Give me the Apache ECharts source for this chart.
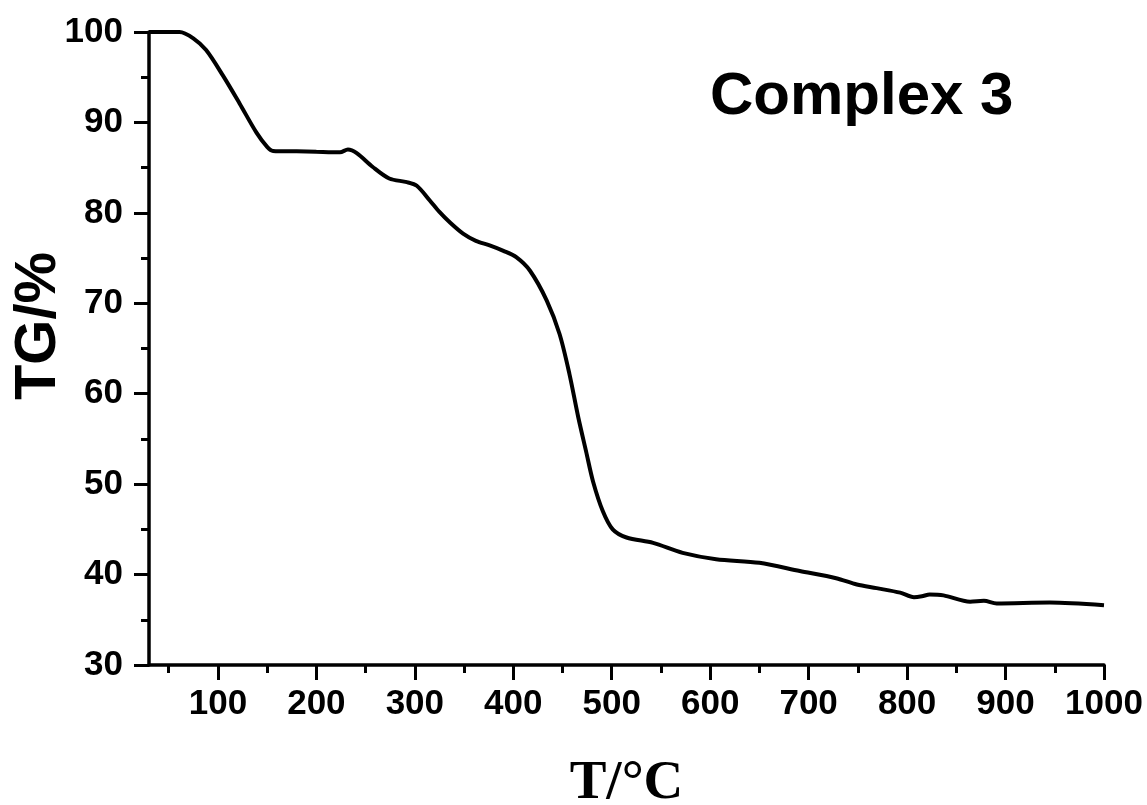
<!DOCTYPE html>
<html>
<head>
<meta charset="utf-8">
<script src="https://cdn.jsdelivr.net/npm/echarts@6/dist/echarts.min.js"></script>
<style>html,body{margin:0;padding:0;background:#fff;}#c{width:1147px;height:805px;}</style>
</head>
<body>
<div id="c"></div>
<script>
// Temperature (°C)
var temps = [30, 45, 61, 75, 88, 105, 122, 139, 150, 156, 180, 200, 224, 232, 241, 257, 274, 292, 302, 315, 325, 336, 349, 362, 376, 390, 403, 417, 434, 447, 457, 466, 474, 481, 491, 501, 515, 542, 572, 606, 650, 691, 728, 749, 769, 793, 807, 815, 823, 837, 864, 878, 891, 945, 1000];
// TG (%)
var tg = [100, 100, 100, 99.3, 98.0, 95.2, 92.1, 88.9, 87.3, 86.85, 86.8, 86.75, 86.7, 87.0, 86.6, 85.1, 83.8, 83.4, 83.0, 81.4, 80.1, 78.9, 77.7, 76.9, 76.4, 75.8, 75.1, 73.6, 70.3, 66.6, 62.2, 57.4, 53.6, 50.3, 47.0, 45.0, 44.1, 43.5, 42.4, 41.7, 41.3, 40.4, 39.6, 38.9, 38.5, 38.0, 37.5, 37.6, 37.8, 37.7, 37.0, 37.1, 36.8, 36.9, 36.6];
var xMajorTicks = [100, 200, 300, 400, 500, 600, 700, 800, 900, 1000];
var xMinorTicks = [50, 150, 250, 350, 450, 550, 650, 750, 850, 950];
var title = 'Complex 3';
var yTitle = 'TG/%';
var xTitle = 'T/°C';

var pts = temps.map(function (t, i) { return [t, tg[i]]; });
var font = 'Liberation Sans, Arial, sans-serif';
var chart = echarts.init(document.getElementById('c'));
chart.setOption({
  backgroundColor: '#fff',
  animation: false,
  grid: { left: 149, right: 43, top: 32, bottom: 140, containLabel: false, outerBoundsMode: 'none' },
  xAxis: [{
    type: 'value', min: 30, max: 1000,
    name: xTitle, nameLocation: 'middle', nameGap: 91,
    nameTextStyle: { fontFamily: 'Liberation Serif, Times New Roman, serif', fontWeight: 'bold', fontSize: 55, color: '#000' },
    axisLine: { show: true, lineStyle: { color: '#000', width: 3.5 } },
    axisTick: { show: true, inside: false, length: 15, customValues: xMajorTicks, lineStyle: { color: '#000', width: 3 } },
    axisLabel: { show: true, customValues: xMajorTicks, margin: 22, formatter: function (v) { return String(v); }, fontFamily: font, fontWeight: 'bold', fontSize: 35, color: '#000' },
    splitLine: { show: false }
  }, {
    type: 'value', min: 30, max: 1000, position: 'bottom',
    axisLine: { show: false },
    axisTick: { show: true, inside: false, length: 8, customValues: xMinorTicks, lineStyle: { color: '#000', width: 3 } },
    axisLabel: { show: false },
    splitLine: { show: false }
  }],
  yAxis: {
    type: 'value', min: 30, max: 100, interval: 10,
    axisLine: { show: true, lineStyle: { color: '#000', width: 3.5 } },
    axisTick: { show: true, inside: false, length: 15, lineStyle: { color: '#000', width: 3 } },
    minorTick: { show: true, splitNumber: 2, length: 8, lineStyle: { color: '#000', width: 3 } },
    axisLabel: { margin: 26, fontFamily: font, fontWeight: 'bold', fontSize: 35, color: '#000' },
    splitLine: { show: false }
  },
  graphic: [{
    type: 'text', left: 710, top: 67,
    style: { text: title, fontFamily: font, fontWeight: 'bold', fontSize: 60, fill: '#000' }
  }, {
    type: 'text', x: 39, y: 326, rotation: Math.PI / 2,
    style: { text: yTitle, fontFamily: font, fontWeight: 'bold', fontSize: 58, fill: '#000', align: 'center', verticalAlign: 'middle' }
  }],
  series: [{
    type: 'line', data: pts, showSymbol: false, smooth: 0.3,
    lineStyle: { color: '#000', width: 4 }, clip: false
  }]
});
</script>
</body>
</html>
